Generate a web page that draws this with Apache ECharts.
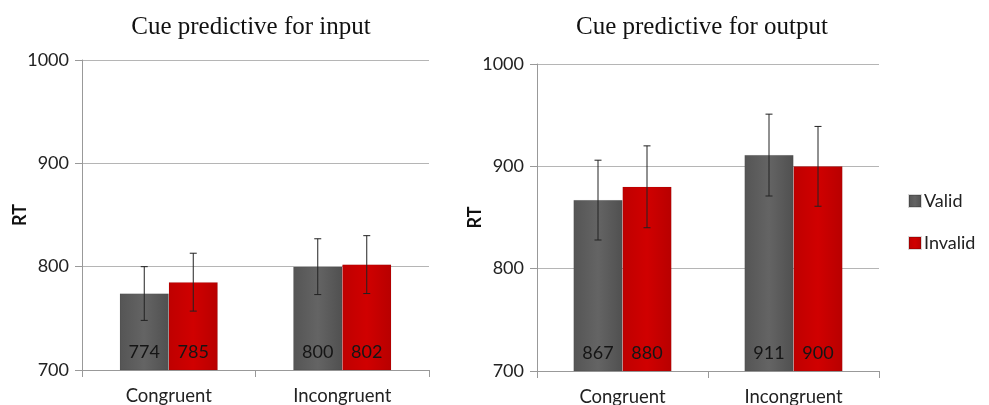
<!DOCTYPE html>
<html><head><meta charset="utf-8">
<script src="https://cdn.jsdelivr.net/npm/echarts@6/dist/echarts.min.js"></script>
<style>html,body{margin:0;padding:0;background:#fff}#c{width:989px;height:405px}</style>
</head><body><div id="c"></div>
<script>
const categories = ['Congruent', 'Incongruent'];
const seriesNames = ['Valid', 'Invalid'];
const yTicks = [700, 800, 900, 1000];
const titles = ['Cue predictive for input', 'Cue predictive for output'];
const validInput = [774, 800];
const invalidInput = [785, 802];
const validOutput = [867, 911];
const invalidOutput = [880, 900];
const errValidInput = [26, 27];
const errInvalidInput = [28, 28];
const errValidOutput = [39, 40];
const errInvalidOutput = [40, 39];

const BW = 49;
const font = 'Lato, "Open Sans", sans-serif';
const grayFill = {type:'linear',x:0,y:0,x2:1,y2:0,colorStops:[{offset:0,color:'#555'},{offset:0.5,color:'#646464'},{offset:1,color:'#505050'}]};
const redFill = {type:'linear',x:0,y:0,x2:1,y2:0,colorStops:[{offset:0,color:'#bf0000'},{offset:0.5,color:'#d00000'},{offset:1,color:'#b80000'}]};

function errSeries(gi, vals, errs, offset) {
  return {
    type: 'custom', xAxisIndex: gi, yAxisIndex: gi, z: 10, silent: true,
    data: vals.map((v, i) => [i, v - errs[i], v + errs[i]]),
    renderItem: function (params, api) {
      const lo = api.coord([api.value(0), api.value(1)]);
      const hi = api.coord([api.value(0), api.value(2)]);
      const x = lo[0] + offset;
      const st = {stroke: '#222', lineWidth: 1};
      return {type: 'group', children: [
        {type: 'line', shape: {x1: x, y1: lo[1], x2: x, y2: hi[1]}, style: st},
        {type: 'line', shape: {x1: x - 3.5, y1: lo[1], x2: x + 3.5, y2: lo[1]}, style: st},
        {type: 'line', shape: {x1: x - 3.5, y1: hi[1], x2: x + 3.5, y2: hi[1]}, style: st}
      ]};
    }
  };
}
function barSeries(gi, name, vals, fill) {
  return {
    name: name, type: 'bar', xAxisIndex: gi, yAxisIndex: gi, barWidth: BW, barGap: '0%',
    data: vals, itemStyle: {color: fill, borderColor: 'rgba(0,0,0,0.15)', borderWidth: 0.5},
    label: {show: true, position: 'insideBottom', distance: 9, color: '#151515', fontSize: 18, fontFamily: font}
  };
}
function xAx(gi) {
  return {type: 'category', gridIndex: gi, data: categories,
    axisLine: {lineStyle: {color: '#999', width: 1}},
    axisTick: {show: true, length: 7, lineStyle: {color: '#999'}},
    axisLabel: {color: '#222', fontSize: 18.5, fontFamily: font, margin: 17}};
}
function yAx(gi) {
  return {type: 'value', gridIndex: gi, min: yTicks[0], max: yTicks[yTicks.length - 1], interval: 100,
    name: 'RT', nameLocation: 'middle', nameGap: 62, nameRotate: 90, nameMoveOverlap: false,
    nameTextStyle: {fontWeight: 'bold', fontSize: 18, color: '#111', fontFamily: font, verticalAlign: 'middle'},
    axisLine: {show: true, lineStyle: {color: '#999'}},
    axisTick: {show: true, length: 7, lineStyle: {color: '#999'}},
    splitLine: {lineStyle: {color: '#b5b5b5'}},
    axisLabel: {color: '#222', fontSize: 18, fontFamily: font, margin: 13, formatter: v => String(v)}};
}

const chart = echarts.init(document.getElementById('c'));
chart.setOption({
  animation: false,
  title: [
    {text: titles[0], left: 246, top: 10, textAlign: 'center', textStyle: {fontFamily: '"Liberation Serif", serif', fontWeight: 'normal', fontSize: 25, color: '#111'}},
    {text: titles[1], left: 697, top: 10, textAlign: 'center', textStyle: {fontFamily: '"Liberation Serif", serif', fontWeight: 'normal', fontSize: 25, color: '#111'}}
  ],
  legend: {data: seriesNames, orient: 'vertical', left: 903, top: 187, itemGap: 24, itemWidth: 12, itemHeight: 12, icon: 'rect',
    textStyle: {fontSize: 18, color: '#222', fontFamily: font, padding: [0, 0, 0, -2]}},
  grid: [
    {left: 82, right: 560, top: 60, bottom: 35, containLabel: false, outerBoundsMode: 'none'},
    {left: 537, right: 110, top: 64, bottom: 34, containLabel: false, outerBoundsMode: 'none'}
  ],
  xAxis: [xAx(0), xAx(1)],
  yAxis: [yAx(0), yAx(1)],
  series: [
    barSeries(0, seriesNames[0], validInput, grayFill),
    barSeries(0, seriesNames[1], invalidInput, redFill),
    barSeries(1, seriesNames[0], validOutput, grayFill),
    barSeries(1, seriesNames[1], invalidOutput, redFill),
    errSeries(0, validInput, errValidInput, -BW / 2),
    errSeries(0, invalidInput, errInvalidInput, BW / 2),
    errSeries(1, validOutput, errValidOutput, -BW / 2),
    errSeries(1, invalidOutput, errInvalidOutput, BW / 2)
  ]
});
</script></body></html>
